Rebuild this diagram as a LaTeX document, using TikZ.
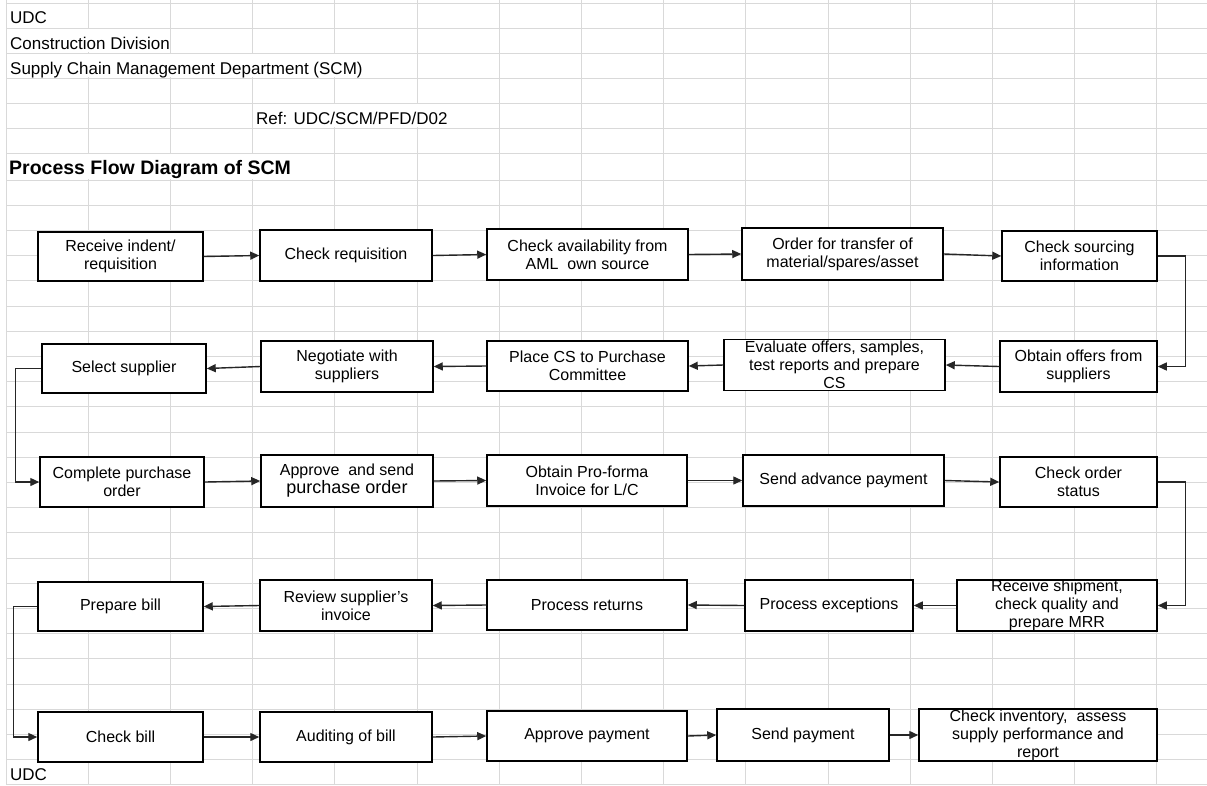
\documentclass[tikz,border=0pt]{standalone}
\usepackage{fontspec}
\setmainfont{Liberation Sans}
\usetikzlibrary{arrows.meta}
\begin{document}
\begin{tikzpicture}[x=1pt,y=-1pt,
  gridline/.style={draw=black!15, line width=1pt},
  box/.style={draw=black, line width=1.5pt, fill=white, align=center, inner sep=0pt,
              font=\fontsize{16}{18}\selectfont},
  sz/.style 2 args={minimum width=#1pt, minimum height=#2pt},
  flow/.style={draw=black!85, line width=1.4pt, -{Triangle[length=9pt,width=8pt]}},
  hdr/.style={anchor=base west, inner sep=0pt, font=\fontsize{17}{20}\selectfont}]
\useasboundingbox (0,0) rectangle (1207,785);
\fill[white] (0,0) rectangle (1207,785);
% spreadsheet grid
\foreach \k in {0,...,14} \draw[gridline] ({6+82.2*\k},0) -- ({6+82.2*\k},785);
\foreach \yy in {3,28,53,78,103,128,153,180} \draw[gridline] (6,\yy) -- (1207,\yy);
\foreach \k in {1,...,24} \draw[gridline] (6,{180+25.2*\k}) -- (1207,{180+25.2*\k});
% cells covered by overflowing text
\fill[white] (7,29) rectangle (169,52);
\fill[white] (7,54) rectangle (415,77);
\fill[white] (253,104) rectangle (497,127);
\fill[white] (7,154) rectangle (333,179);
% header texts
\node[hdr] (udc) at (10,23) {UDC};
\node[hdr] (div) at (10,49) {Construction Division};
\node[hdr] (dept) at (10,74) {Supply Chain Management Department (SCM)};
\node[hdr] (ref) at (256,124) {Ref: UDC/SCM/PFD/D02};
\node[hdr, font=\fontsize{19.5}{22}\selectfont\bfseries] (title) at (9,174) {Process Flow Diagram of SCM};
\node[hdr] (udcb) at (10,780) {UDC};
% row 1
\node[box, sz={165}{49}] (b1) at (120.5,256.5) {Receive indent/\\requisition};
\node[box, sz={172}{51}] (b2) at (346,255.5) {Check requisition};
\node[box, sz={201}{51}] (b3) at (587.5,254.5) {Check availability from\\AML\ \ own source};
\node[box, sz={201}{52}] (b4) at (842.5,254) {Order for transfer of\\material/spares/asset};
\node[box, sz={155}{50}] (b5) at (1079.5,256) {Check sourcing\\information};
% row 2
\node[box, sz={157}{51}] (b6) at (1078.5,366.5) {Obtain offers from\\suppliers};
\node[box, sz={221}{51}] (b7) at (834.5,365) {Evaluate offers, samples,\\test reports and prepare\\CS};
\node[box, sz={201}{50}] (b8) at (587.5,366) {Place CS to Purchase\\Committee};
\node[box, sz={172}{51}] (b9) at (347,366.5) {Negotiate with\\suppliers};
\node[box, sz={164}{49}] (b10) at (124,368.5) {Select supplier};
% row 3
\node[box, sz={164}{50}] (b11) at (122,482) {Complete purchase\\order};
\node[box, sz={172}{52}] (b12) at (347,481) {Approve\ \ and send\\{\fontsize{18}{18}\selectfont purchase order}};
\node[box, sz={200}{51}] (b13) at (587,480.5) {Obtain Pro-forma\\Invoice for L/C};
\node[box, sz={201}{51}] (b14) at (843.5,480.5) {Send advance payment};
\node[box, sz={157}{50}] (b15) at (1078.5,482) {Check order\\status};
% row 4
\node[box, sz={200}{51}] (b16) at (1057,605.5) {Receive shipment,\\check quality and\\prepare MRR};
\node[box, sz={168}{51}] (b17) at (829,605.5) {Process exceptions};
\node[box, sz={200}{50}] (b18) at (587,605) {Process returns};
\node[box, sz={172}{51}] (b19) at (346,605.5) {Review supplier{\char"27}s\\invoice};
\node[box, sz={165}{49}] (b20) at (120.5,606.5) {Prepare bill};
% row 5
\node[box, sz={165}{50}] (b21) at (120.5,737) {Check bill};
\node[box, sz={172}{50}] (b22) at (346,737) {Auditing of bill};
\node[box, sz={200}{50}] (b23) at (587,736) {Approve payment};
\node[box, sz={172}{52}] (b24) at (803,735) {Send payment};
\node[box, sz={238}{52}] (b25) at (1038,735) {Check inventory,\ \ assess\\supply performance and\\report};
% connectors
\draw[flow] (b1.east) -- (b2.west);
\draw[flow] (b2.east) -- (b3.west);
\draw[flow] (b3.east) -- (b4.west);
\draw[flow] (b4.east) -- (b5.west);
\draw[flow] (b5.east) -- ++(28,0) |- (b6.east);
\draw[flow] (b6.west) -- (b7.east);
\draw[flow] (b7.west) -- (b8.east);
\draw[flow] (b8.west) -- (b9.east);
\draw[flow] (b9.west) -- (b10.east);
\draw[flow] (b10.west) -- ++(-26,0) |- (b11.west);
\draw[flow] (b11.east) -- (b12.west);
\draw[flow] (b12.east) -- (b13.west);
\draw[flow] (b13.east) -- (b14.west);
\draw[flow] (b14.east) -- (b15.west);
\draw[flow] (b15.east) -- ++(28,0) |- (b16.east);
\draw[flow] (b16.west) -- (b17.east);
\draw[flow] (b17.west) -- (b18.east);
\draw[flow] (b18.west) -- (b19.east);
\draw[flow] (b19.west) -- (b20.east);
\draw[flow] (b20.west) -- ++(-24,0) |- (b21.west);
\draw[flow] (b21.east) -- (b22.west);
\draw[flow] (b22.east) -- (b23.west);
\draw[flow] (b23.east) -- (b24.west);
\draw[flow] (b24.east) -- (b25.west);
\end{tikzpicture}
\end{document}
